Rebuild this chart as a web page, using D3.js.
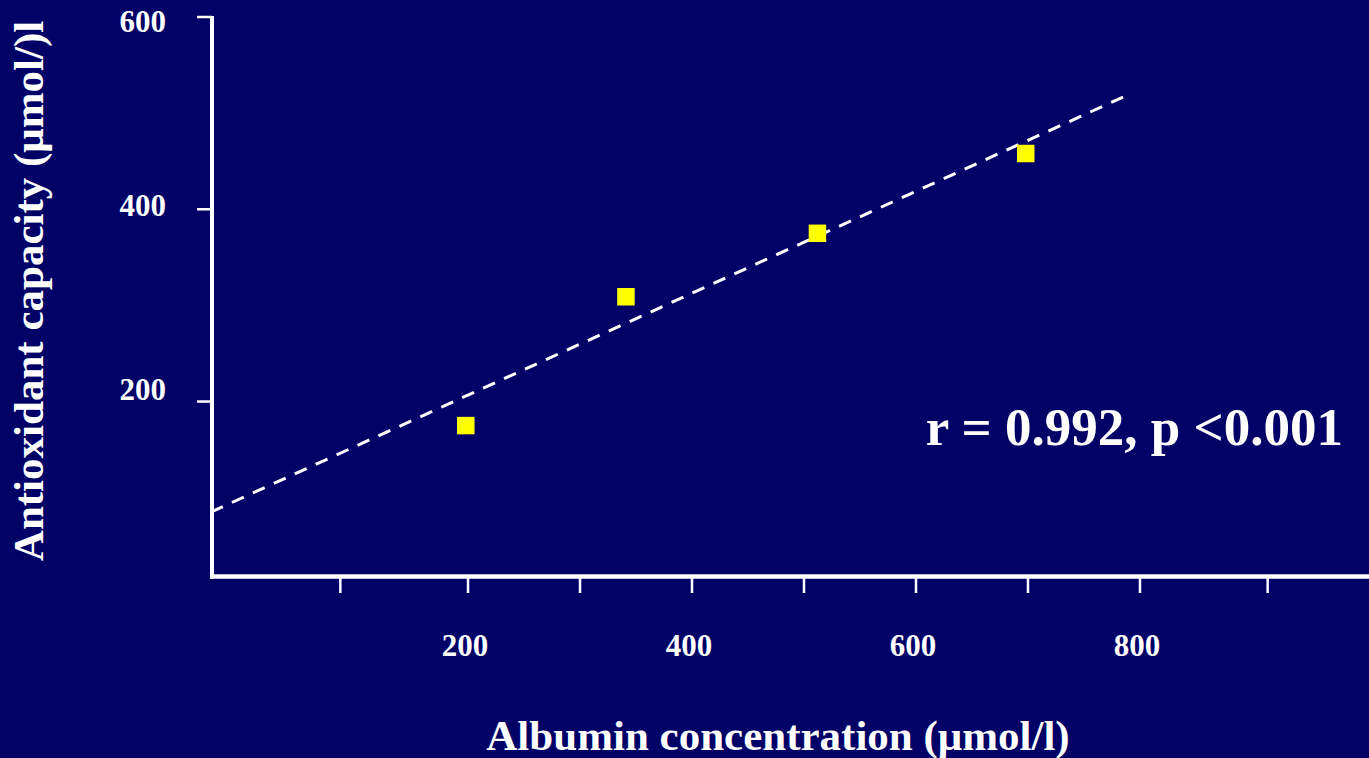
<!DOCTYPE html>
<html>
<head>
<meta charset="utf-8">
<title>Antioxidant capacity vs albumin</title>
<style>
  body { margin: 0; background: #000066; }
  svg { display: block; }
  text { font-family: "Times New Roman", "Liberation Serif", serif; font-weight: bold; fill: #fff; }
</style>
</head>
<body>
<svg width="1369" height="758"></svg>

<script src="https://d3js.org/d3.v7.min.js"></script>
<script>

// data
var albumin  = [198, 341, 512, 698];
var capacity = [175, 309, 375, 458];

// dashed fitted line: y = intercept + slope * x, drawn between these x values
var fitIntercept = 100.7;
var fitSlope = 0.530;
var fitRange = [-29.5, 785];

var xTicks = [86, 200, 300, 400, 500, 600, 700, 800, 914];
var xLabels = [200, 400, 600, 800];
var yTicks = [200, 400, 600];

var statText = "r = 0.992, p <0.001";
var xTitle = "Albumin concentration (\u03bcmol/l)";
var yTitle = "Antioxidant capacity (\u03bcmol/)l";

var svg = d3.select("svg"),
    width = +svg.attr("width"),
    height = +svg.attr("height");

var x = d3.scaleLinear()
    .domain([-29.5, 1004.5])
    .range([211, width]);

var y = d3.scaleLinear()
    .domain([18, 600])
    .range([576.5, 17]);

// the y tick labels sit a little off their ticks in the original
var yLab = d3.scaleLinear()
    .domain([200, 600])
    .range([400, 32]);

// y axis
svg.append("line")
    .attr("x1", x(-29.5) + 1).attr("x2", x(-29.5) + 1)
    .attr("y1", y(600) - 1).attr("y2", y(18) + 2)
    .attr("stroke", "#fff").attr("stroke-width", 4);

svg.selectAll(".ytick")
    .data(yTicks)
    .enter().append("line")
    .attr("class", "ytick")
    .attr("x1", 197).attr("x2", 212)
    .attr("y1", function (d) { return y(d); })
    .attr("y2", function (d) { return y(d); })
    .attr("stroke", "#fff").attr("stroke-width", 2.5);

svg.selectAll(".ylabel")
    .data(yTicks)
    .enter().append("text")
    .attr("class", "ylabel")
    .attr("x", 166)
    .attr("y", function (d) { return yLab(d); })
    .attr("text-anchor", "end")
    .attr("font-size", 31)
    .text(function (d) { return d; });

// x axis
svg.append("line")
    .attr("x1", x(-29.5) - 1).attr("x2", width)
    .attr("y1", y(18)).attr("y2", y(18))
    .attr("stroke", "#fff").attr("stroke-width", 4.5);

svg.selectAll(".xtick")
    .data(xTicks)
    .enter().append("line")
    .attr("class", "xtick")
    .attr("x1", function (d) { return x(d); })
    .attr("x2", function (d) { return x(d); })
    .attr("y1", 578).attr("y2", 593)
    .attr("stroke", "#fff").attr("stroke-width", 2.5);

svg.selectAll(".xlabel")
    .data(xLabels)
    .enter().append("text")
    .attr("class", "xlabel")
    .attr("x", function (d) { return x(d) - 3; })
    .attr("y", 656)
    .attr("text-anchor", "middle")
    .attr("font-size", 31)
    .text(function (d) { return d; });

// fitted line
var line = d3.line()
    .x(function (d) { return x(d); })
    .y(function (d) { return y(fitIntercept + fitSlope * d); });

svg.append("path")
    .datum(fitRange)
    .attr("d", line)
    .attr("fill", "none")
    .attr("stroke", "#fff")
    .attr("stroke-width", 3)
    .attr("stroke-dasharray", "13,10");

// points
var s = 17.5;
svg.selectAll(".pt")
    .data(albumin)
    .enter().append("rect")
    .attr("class", "pt")
    .attr("x", function (d) { return x(d) - s / 2; })
    .attr("y", function (d, i) { return y(capacity[i]) - s / 2; })
    .attr("width", s)
    .attr("height", s)
    .attr("fill", "#ffff00");

// texts
svg.append("text")
    .attr("x", 1343)
    .attr("y", 445)
    .attr("text-anchor", "end")
    .attr("font-size", 53)
    .text(statText);

svg.append("text")
    .attr("x", 778)
    .attr("y", 750)
    .attr("text-anchor", "middle")
    .attr("font-size", 43)
    .text(xTitle);

svg.append("text")
    .attr("transform", "translate(43,291) rotate(-90)")
    .attr("text-anchor", "middle")
    .attr("font-size", 43)
    .text(yTitle);

</script>
</body>
</html>
